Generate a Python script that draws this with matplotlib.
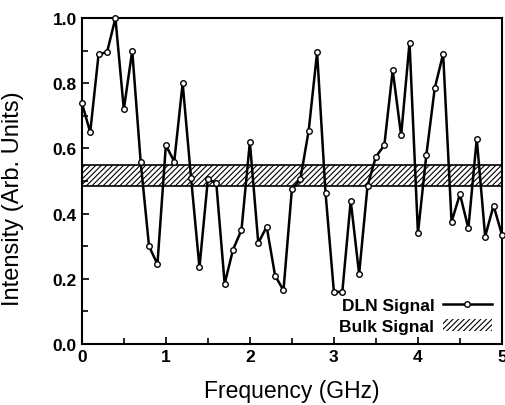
import numpy as np
import matplotlib.pyplot as plt
from matplotlib.patches import Patch
from matplotlib.lines import Line2D
from matplotlib.ticker import MultipleLocator, FormatStrFormatter

plt.rcParams['font.family'] = ['Liberation Sans', 'DejaVu Sans']
plt.rcParams['hatch.linewidth'] = 0.8

# DLN signal, sampled every 0.1 GHz
freq = np.round(np.arange(0, 5.01, 0.1), 2)
dln = [0.74, 0.65, 0.89, 0.895, 1.00, 0.72, 0.90, 0.56, 0.30, 0.245,
       0.61, 0.56, 0.80, 0.51, 0.235, 0.505, 0.495, 0.185, 0.29, 0.35,
       0.62, 0.31, 0.36, 0.21, 0.165, 0.475, 0.505, 0.655, 0.895, 0.465,
       0.16, 0.16, 0.44, 0.215, 0.485, 0.575, 0.61, 0.84, 0.64, 0.925,
       0.34, 0.58, 0.785, 0.89, 0.375, 0.46, 0.355, 0.63, 0.33, 0.425,
       0.335]

# bulk signal band
bulk_lo = 0.484
bulk_hi = 0.549

fig = plt.figure(figsize=(5.05, 4.06), dpi=100)
ax = fig.add_axes([0.162, 0.150, 0.832, 0.803])

ax.fill_between([0, 5], bulk_lo, bulk_hi, facecolor='white', edgecolor='black',
                hatch='//////', linewidth=0)
ax.axhline(bulk_lo, color='black', lw=1.2)
ax.axhline(bulk_hi, color='black', lw=1.2)

ax.plot(freq, dln, color='black', lw=1.8, marker='o', ms=4,
        mfc='white', mec='black', mew=1.0, clip_on=False, zorder=3)

ax.set_xlim(0, 5)
ax.set_ylim(0, 1.0)
ax.xaxis.set_major_locator(MultipleLocator(1))
ax.xaxis.set_minor_locator(MultipleLocator(0.5))
ax.yaxis.set_major_locator(MultipleLocator(0.2))
ax.yaxis.set_minor_locator(MultipleLocator(0.1))
ax.yaxis.set_major_formatter(FormatStrFormatter('%.1f'))
ax.tick_params(which='both', direction='in', top=False, right=False,
               width=1.2, labelsize=12.5)
ax.tick_params(which='major', length=5)
ax.tick_params(which='minor', length=4)
for lab in ax.get_xticklabels() + ax.get_yticklabels():
    lab.set_fontweight('bold')
for s in ax.spines.values():
    s.set_linewidth(1.5)

ax.set_xlabel('Frequency (GHz)', fontsize=16.5, labelpad=11)
ax.set_ylabel('Intensity (Arb. Units)', fontsize=17)
ax.yaxis.set_label_coords(-0.137, 0.45)

handles = [Line2D([], [], color='black', lw=1.8, marker='o', ms=4,
                  mfc='white', mec='black', markevery=[1]),
           Patch(facecolor='white', edgecolor='black', hatch='//////', lw=0)]
ax.legend(handles, ['DLN Signal', 'Bulk Signal'], loc='lower right',
          frameon=False, markerfirst=False, handlelength=2.8,
          prop={'weight': 'bold', 'size': 12.5}, borderaxespad=0.2,
          labelspacing=0.3, handletextpad=0.5)

fig.savefig('out.png', dpi=100)
